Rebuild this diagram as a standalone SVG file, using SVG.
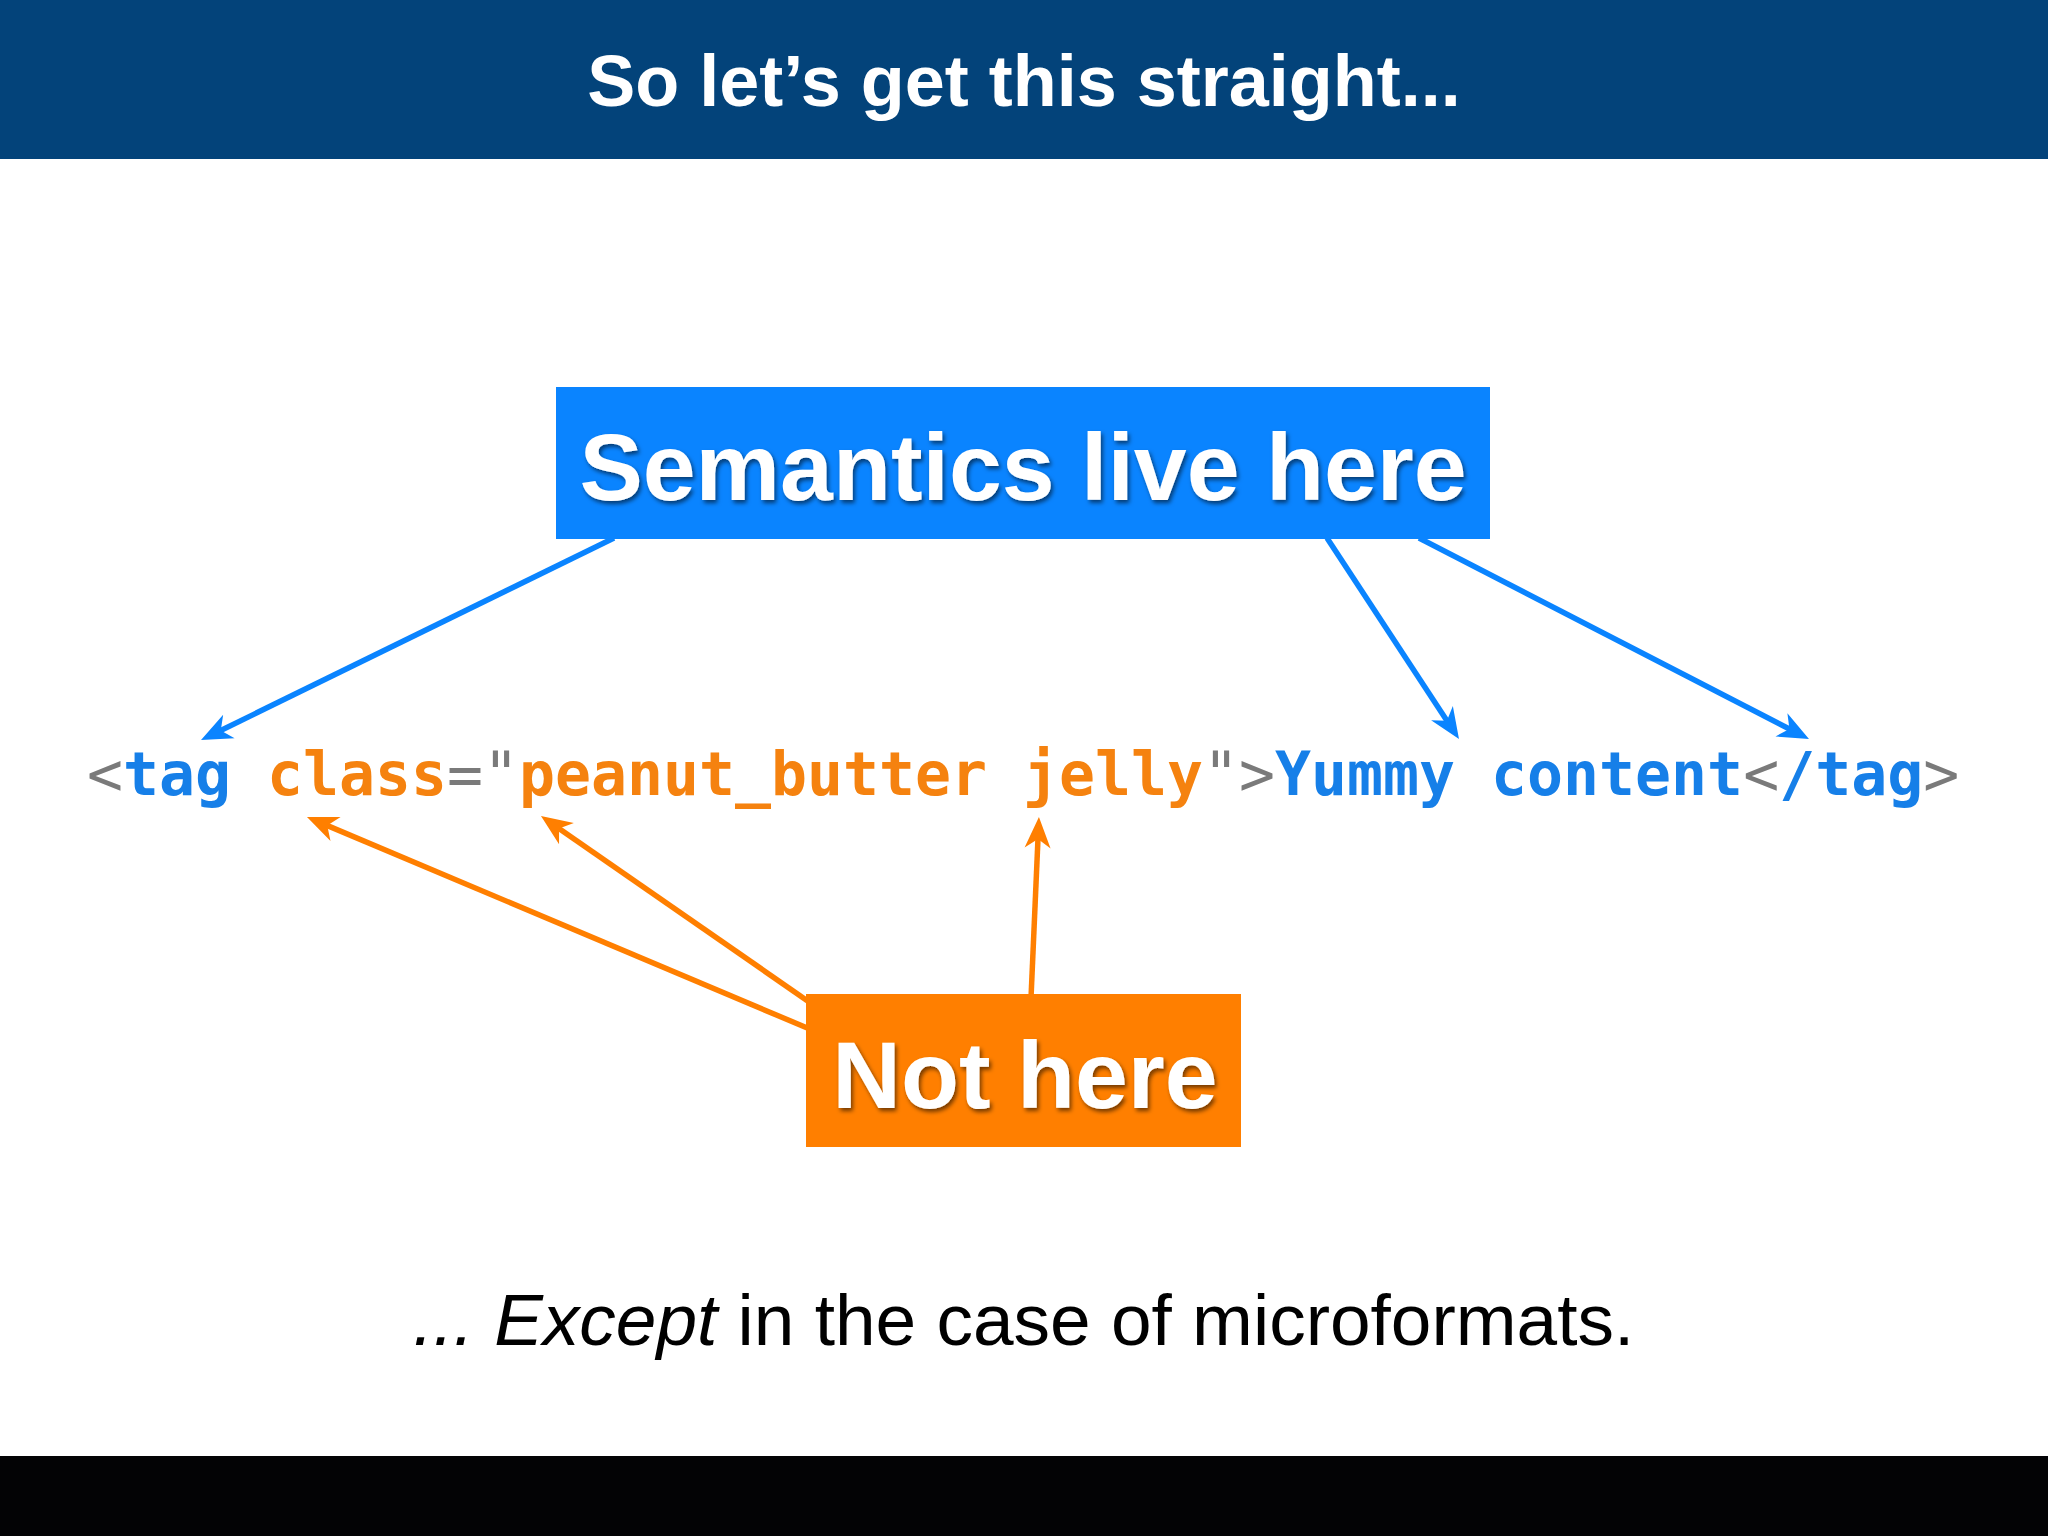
<svg xmlns="http://www.w3.org/2000/svg" width="2048" height="1536" viewBox="0 0 2048 1536">
  <style>
    .sans { font-family: "Liberation Sans", Arial, sans-serif; }
    .title { font-size: 72px; font-weight: bold; fill: #ffffff; }
    .label { font-size: 95px; font-weight: bold; fill: #ffffff; }
    .code { font-family: "DejaVu Sans Mono", "Liberation Mono", monospace; font-size: 59.8px; font-weight: bold; }
    .g { fill: #7a7a7a; font-weight: normal; }
    .b { fill: #167fe8; }
    .o { fill: #f5820f; }
    .note { font-size: 73px; fill: #000000; }
    .blue-line { stroke: #0a84ff; stroke-width: 5.5; fill: none; }
    .orange-line { stroke: #ff7f00; stroke-width: 5.5; fill: none; }
  </style>
  <defs>
    <marker id="ahBlue" viewBox="-40 -16 42 32" refX="-10" refY="0" markerWidth="42" markerHeight="32" markerUnits="userSpaceOnUse" orient="auto">
      <path d="M0,0 L-31,-13 L-22,0 L-31,13 Z" fill="#0a84ff"/>
    </marker>
    <marker id="ahOrange" viewBox="-40 -16 42 32" refX="-10" refY="0" markerWidth="42" markerHeight="32" markerUnits="userSpaceOnUse" orient="auto">
      <path d="M0,0 L-31,-13 L-22,0 L-31,13 Z" fill="#ff7f00"/>
    </marker>
    <filter id="shadow" x="-10%" y="-30%" width="120%" height="160%">
      <feDropShadow dx="2" dy="3" stdDeviation="2" flood-color="#000000" flood-opacity="0.55"/>
    </filter>
  </defs>

  <rect x="0" y="0" width="2048" height="1536" fill="#ffffff"/>

  <g id="header">
    <rect x="0" y="0" width="2048" height="159" fill="#03437a"/>
    <text class="sans title" x="1024" y="106" text-anchor="middle">So let’s get this straight...</text>
  </g>

  <g id="connectors">
    <line class="blue-line" x1="614" y1="538" x2="210" y2="735.7" marker-end="url(#ahBlue)"/>
    <line class="blue-line" x1="1327" y1="538" x2="1453.5" y2="730.7" marker-end="url(#ahBlue)"/>
    <line class="blue-line" x1="1419" y1="538" x2="1800.1" y2="734.5" marker-end="url(#ahBlue)"/>
    <line class="orange-line" x1="812" y1="1030" x2="316.2" y2="820.9" marker-end="url(#ahOrange)"/>
    <line class="orange-line" x1="812" y1="1004" x2="549.2" y2="821.7" marker-end="url(#ahOrange)"/>
    <line class="orange-line" x1="1031" y1="998" x2="1038.5" y2="827" marker-end="url(#ahOrange)"/>
  </g>

  <g id="semantics-box">
    <rect x="556" y="387" width="934" height="152" fill="#0a84ff"/>
    <text class="sans label" x="1023" y="500" text-anchor="middle" filter="url(#shadow)">Semantics live here</text>
  </g>

  <g id="code-line">
    <text class="code" x="87" y="795"><tspan class="g">&lt;</tspan><tspan class="b">tag</tspan> <tspan class="o">class</tspan><tspan class="g">="</tspan><tspan class="o">peanut_butter jelly</tspan><tspan class="g">"&gt;</tspan><tspan class="b">Yummy content</tspan><tspan class="g">&lt;</tspan><tspan class="b">/tag</tspan><tspan class="g">&gt;</tspan></text>
  </g>

  <g id="not-here-box">
    <rect x="806" y="994" width="435" height="153" fill="#ff7f00"/>
    <text class="sans label" x="1025" y="1108" text-anchor="middle" filter="url(#shadow)">Not here</text>
  </g>

  <g id="footnote">
    <text class="sans note" x="413" y="1345"><tspan font-style="italic">... Except</tspan> in the case of microformats.</text>
  </g>

  <rect id="bottom-bar" x="0" y="1456" width="2048" height="80" fill="#030305"/>
</svg>
